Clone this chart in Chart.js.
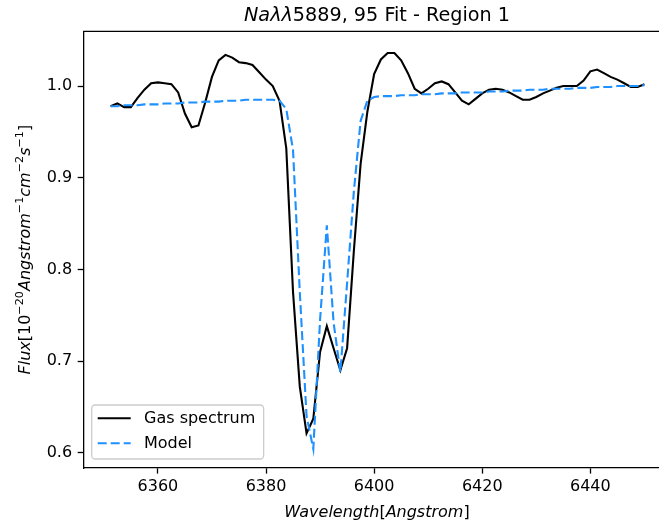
<!DOCTYPE html>
<html>
<head>
<meta charset="utf-8">
<script src="https://cdn.jsdelivr.net/npm/chart.js@4.4.0/dist/chart.umd.min.js"></script>
<style>
  html, body { margin: 0; padding: 0; background: #fff; }
  #wrap { width: 659px; height: 525px; }
</style>
</head>
<body>
<div id="wrap"><canvas id="spec" width="659" height="525"></canvas></div>
<script>
// wavelength grid (Angstrom)
const wavelength = [
  6351.25, 6352.5, 6353.75, 6355, 6356.25, 6357.5, 6358.75, 6360,
  6361.25, 6362.5, 6363.75, 6365, 6366.25, 6367.5, 6368.75, 6370,
  6371.25, 6372.5, 6373.75, 6375, 6376.25, 6377.5, 6378.75, 6380,
  6381.25, 6382.5, 6383.75, 6385, 6386.25, 6387.5, 6388.75, 6390,
  6391.25, 6392.5, 6393.75, 6395, 6396.25, 6397.5, 6398.75, 6400,
  6401.25, 6402.5, 6403.75, 6405, 6406.25, 6407.5, 6408.75, 6410,
  6411.25, 6412.5, 6413.75, 6415, 6416.25, 6417.5, 6418.75, 6420,
  6421.25, 6422.5, 6423.75, 6425, 6426.25, 6427.5, 6428.75, 6430,
  6431.25, 6432.5, 6433.75, 6435, 6436.25, 6437.5, 6438.75, 6440,
  6441.25, 6442.5, 6443.75, 6445, 6446.25, 6447.5, 6448.75, 6450
];

const gasFlux = [
  0.978, 0.981, 0.977, 0.977, 0.987, 0.996, 1.003, 1.004,
  1.003, 1.002, 0.993, 0.970, 0.955, 0.957, 0.982, 1.010,
  1.028, 1.034, 1.031, 1.026, 1.025, 1.023, 1.015, 1.007,
  1.000, 0.984, 0.932, 0.775, 0.672, 0.621, 0.637, 0.710,
  0.738, 0.714, 0.690, 0.714, 0.820, 0.915, 0.972, 1.013,
  1.029, 1.036, 1.036, 1.028, 1.014, 0.997, 0.992, 0.997,
  1.003, 1.005, 1.002, 0.993, 0.984, 0.980, 0.986, 0.992,
  0.996, 0.997, 0.996, 0.993, 0.989, 0.985, 0.985, 0.988,
  0.992, 0.995, 0.998, 1.000, 1.000, 1.000, 1.006, 1.016,
  1.018, 1.014, 1.010, 1.007, 1.003, 0.999, 0.999, 1.002
];

const modelFlux = [
  0.978, 0.978, 0.979, 0.979, 0.979, 0.980, 0.980, 0.980,
  0.981, 0.981, 0.981, 0.982, 0.982, 0.982, 0.983, 0.983,
  0.983, 0.984, 0.984, 0.984, 0.985, 0.985, 0.985, 0.985,
  0.985, 0.984, 0.975, 0.930, 0.775, 0.640, 0.604, 0.745,
  0.848, 0.742, 0.688, 0.785, 0.885, 0.962, 0.984, 0.988,
  0.989, 0.989, 0.989, 0.990, 0.990, 0.990, 0.991, 0.991,
  0.991, 0.992, 0.992, 0.992, 0.993, 0.993, 0.993, 0.993,
  0.994, 0.994, 0.994, 0.995, 0.995, 0.995, 0.996, 0.996,
  0.996, 0.997, 0.997, 0.997, 0.997, 0.998, 0.998, 0.998,
  0.999, 0.999, 0.999, 1.000, 1.000, 1.000, 1.000, 1.001
];

const seriesNames = ['Gas spectrum', 'Model'];
const xTicks = [6360, 6380, 6400, 6420, 6440];
const yTicks = [0.6, 0.7, 0.8, 0.9, 1.0];

const FONT = '"DejaVu Sans", "Liberation Sans", sans-serif';

// draws mixed italic / upright / superscript text, mathtext style
function drawRuns(ctx, runs, size, x, y, angle) {
  const fontOf = r => (r.it ? 'italic ' : '') + (r.sup ? size * 0.7 : size) + 'px ' + FONT;
  const widths = runs.map(r => { ctx.font = fontOf(r); return ctx.measureText(r.t).width; });
  const total = widths.reduce((a, b) => a + b, 0);
  ctx.save();
  ctx.translate(x, y);
  ctx.rotate(angle || 0);
  ctx.fillStyle = '#000';
  ctx.textAlign = 'left';
  ctx.textBaseline = 'alphabetic';
  let cx = -total / 2;
  runs.forEach((r, i) => {
    ctx.font = fontOf(r);
    ctx.fillText(r.t, cx, r.sup ? -size * 0.42 : 0);
    cx += widths[i];
  });
  ctx.restore();
}

const decorations = {
  id: 'decorations',
  afterDraw(chart) {
    const ctx = chart.ctx;
    const area = chart.chartArea;

    // top spine (right one falls outside the picture)
    ctx.save();
    ctx.strokeStyle = '#000';
    ctx.lineWidth = 1.3;
    ctx.beginPath();
    ctx.moveTo(area.left, area.top);
    ctx.lineTo(area.right, area.top);
    ctx.stroke();
    ctx.restore();

    const midX = 377;
    drawRuns(ctx, [
      { t: 'Na', it: true }, { t: 'λλ', it: true }, { t: '5889, 95' }, { t: ' Fit - Region 1' }
    ], 19.2, midX, 21);

    drawRuns(ctx, [
      { t: 'Wavelength', it: true }, { t: '[' }, { t: 'Angstrom', it: true }, { t: ']' }
    ], 16, midX, 517);

    drawRuns(ctx, [
      { t: 'Flux', it: true }, { t: '[10' }, { t: '−20', sup: true },
      { t: 'Angstrom', it: true }, { t: '−1', sup: true },
      { t: 'cm', it: true }, { t: '−2', sup: true },
      { t: 's', it: true }, { t: '−1', sup: true }, { t: ']' }
    ], 16, 30, (area.top + area.bottom) / 2, -Math.PI / 2);

    // legend, lower left
    const ds = chart.data.datasets;
    ctx.save();
    ctx.font = '16px ' + FONT;
    const tw = Math.max(...ds.map(d => ctx.measureText(d.label).width));
    const bx = 91.7, by = 405, bw = 144 + tw + 8.3 - bx, bh = 459 - by;
    ctx.beginPath();
    ctx.roundRect(bx, by, bw, bh, 3.5);
    ctx.fillStyle = 'rgba(255,255,255,0.8)';
    ctx.fill();
    ctx.strokeStyle = '#cccccc';
    ctx.lineWidth = 1.3;
    ctx.stroke();
    const rows = [418.3, 443.3];
    ds.forEach((d, i) => {
      ctx.beginPath();
      ctx.setLineDash(d.borderDash || []);
      ctx.strokeStyle = d.borderColor;
      ctx.lineWidth = d.borderWidth;
      ctx.moveTo(97.7, rows[i]);
      ctx.lineTo(130.7, rows[i]);
      ctx.stroke();
      ctx.setLineDash([]);
      ctx.fillStyle = '#000';
      ctx.textBaseline = 'middle';
      ctx.fillText(d.label, 144, rows[i] + 1);
    });
    ctx.restore();
  }
};

const tickGrid = {
  display: true,
  drawOnChartArea: false,
  drawTicks: true,
  tickLength: 5.6,
  tickWidth: 1.3,
  tickColor: '#000',
  color: '#000'
};

new Chart(document.getElementById('spec'), {
  type: 'line',
  data: {
    datasets: [
      {
        label: seriesNames[0],
        data: wavelength.map((w, i) => ({ x: w, y: gasFlux[i] })),
        borderColor: '#000000',
        borderWidth: 2.1,
        pointRadius: 0,
        tension: 0,
        fill: false,
        order: 2
      },
      {
        label: seriesNames[1],
        data: wavelength.map((w, i) => ({ x: w, y: modelFlux[i] })),
        borderColor: '#1e90ff',
        borderWidth: 2.1,
        borderDash: [9, 4],
        pointRadius: 0,
        tension: 0,
        fill: false,
        order: 1
      }
    ]
  },
  options: {
    responsive: false,
    animation: false,
    devicePixelRatio: 1,
    layout: { padding: { top: 31.3, right: 0, bottom: 0, left: 0 } },
    plugins: {
      legend: { display: false },
      title: { display: false },
      tooltip: { enabled: false }
    },
    scales: {
      x: {
        type: 'linear',
        min: 6346.2,
        max: 6452.7,
        grid: tickGrid,
        border: { display: true, color: '#000', width: 1.3 },
        afterFit: s => { s.height = 57; },
        afterBuildTicks: s => { s.ticks = xTicks.map(v => ({ value: v })); },
        ticks: {
          padding: 4,
          color: '#000',
          maxRotation: 0,
          font: { family: FONT, size: 16 },
          callback: v => String(v)
        }
      },
      y: {
        type: 'linear',
        min: 0.5833,
        max: 1.0597,
        grid: tickGrid,
        border: { display: true, color: '#000', width: 1.3 },
        afterFit: s => { s.width = 83.3; },
        afterBuildTicks: s => { s.ticks = yTicks.map(v => ({ value: v })); },
        ticks: {
          padding: 5.6,
          color: '#000',
          font: { family: FONT, size: 16 },
          callback: v => Number(v).toFixed(1)
        }
      }
    }
  },
  plugins: [decorations]
});
</script>
</body>
</html>
